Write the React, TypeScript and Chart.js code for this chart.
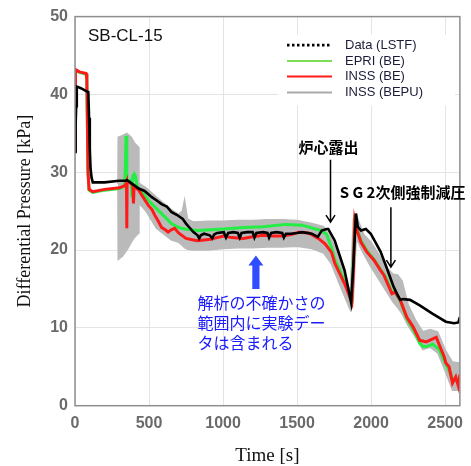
import React, { useEffect, useRef } from 'react';
import { Chart, registerables } from 'chart.js';

Chart.register(...registerables);

// ---- Data (time in s, differential pressure in kPa) ----
const lstfTime = [0, 4, 8, 12, 40, 70, 90, 95, 100, 105, 112, 120, 200, 298, 340, 350, 380, 430, 470, 519, 550, 585, 620, 651, 690, 728, 750, 773, 800, 828, 839, 850, 872, 910, 927, 940, 960, 1005, 1020, 1035, 1070, 1100, 1113, 1125, 1165, 1200, 1212, 1225, 1270, 1300, 1311, 1325, 1360, 1400, 1411, 1425, 1460, 1500, 1534, 1600, 1640, 1667, 1700, 1711, 1755, 1821, 1865, 1880, 1898, 1910, 1932, 1965, 1998, 2030, 2064, 2108, 2152, 2180, 2197, 2219, 2263, 2329, 2417, 2505, 2561, 2590, 2600];
const lstfValues = [32.6, 36.0, 38.5, 41.0, 40.8, 40.5, 40.3, 37.0, 33.0, 30.5, 29.3, 28.7, 28.7, 28.9, 28.9, 29.0, 28.6, 27.9, 27.6, 26.8, 26.4, 25.9, 25.6, 24.9, 24.5, 24.0, 23.4, 22.9, 22.3, 21.9, 21.5, 21.9, 22.1, 21.9, 21.5, 22.0, 22.2, 22.3, 21.6, 22.2, 22.3, 22.2, 21.6, 22.2, 22.3, 22.3, 21.6, 22.2, 22.3, 22.2, 21.6, 22.2, 22.3, 22.2, 21.6, 22.1, 22.1, 22.2, 22.3, 22.1, 21.7, 22.5, 22.7, 22.7, 21.2, 17.4, 13.3, 18.0, 24.7, 23.0, 22.5, 22.7, 22.1, 21.0, 19.8, 17.6, 15.3, 14.2, 13.6, 13.7, 13.6, 12.9, 11.8, 10.8, 10.6, 10.7, 11.4];

const epriTime = [0, 3, 75, 80, 88, 95, 120, 200, 300, 335, 340, 345, 350, 365, 380, 385, 390, 400, 408, 420, 453, 500, 563, 610, 651, 700, 740, 828, 916, 1005, 1137, 1270, 1424, 1534, 1623, 1667, 1700, 1733, 1755, 1821, 1870, 1890, 1910, 1932, 1970, 2020, 2064, 2100, 2141, 2163, 2197, 2241, 2285, 2329, 2351, 2373, 2417, 2461, 2494, 2527, 2550, 2572, 2600];
const epriValues = [32.8, 43.0, 42.6, 41.8, 29.8, 27.7, 27.4, 27.7, 27.9, 28.2, 30.5, 34.7, 29.0, 28.8, 29.0, 26.8, 29.5, 29.8, 29.5, 28.2, 27.4, 26.3, 25.1, 24.2, 23.4, 22.9, 22.7, 22.5, 22.6, 22.7, 22.9, 23.0, 23.3, 23.2, 22.7, 22.5, 22.0, 20.3, 18.8, 16.0, 13.5, 23.6, 22.4, 21.2, 20.0, 18.8, 17.5, 16.5, 14.6, 14.6, 13.5, 11.2, 9.8, 8.0, 7.6, 7.6, 7.9, 7.2, 5.8, 4.5, 3.5, 3.2, 3.0];

const inssTime = [0, 3, 30, 75, 80, 88, 95, 120, 200, 300, 340, 348, 350, 352, 370, 390, 395, 399, 430, 460, 497, 520, 541, 560, 585, 610, 629, 650, 673, 700, 750, 800, 828, 870, 916, 960, 1005, 1060, 1137, 1200, 1270, 1340, 1402, 1460, 1512, 1578, 1644, 1689, 1733, 1755, 1821, 1870, 1880, 1890, 1905, 1932, 1970, 2020, 2064, 2086, 2141, 2163, 2197, 2241, 2285, 2329, 2373, 2417, 2440, 2461, 2494, 2505, 2527, 2550, 2572, 2590, 2600];
const inssValues = [32.8, 43.2, 42.9, 42.7, 42.0, 30.0, 27.8, 27.5, 27.8, 28.0, 28.3, 28.7, 22.8, 28.7, 28.7, 28.3, 26.0, 28.2, 27.7, 26.8, 25.7, 25.2, 24.4, 23.8, 22.9, 22.6, 22.3, 22.6, 22.8, 22.2, 21.5, 21.3, 21.2, 21.3, 21.4, 21.6, 21.8, 21.6, 21.5, 21.7, 21.9, 21.8, 21.8, 22.0, 22.3, 22.2, 21.5, 20.8, 19.7, 18.3, 15.7, 13.3, 17.0, 23.8, 22.5, 21.0, 19.8, 18.7, 17.4, 16.8, 14.4, 14.6, 13.6, 11.4, 10.1, 8.4, 8.2, 8.6, 8.8, 7.8, 6.3, 5.5, 5.0, 2.9, 3.7, 2.5, 4.0];

const bepuTime = [290, 292, 320, 350, 380, 400, 430, 432, 480, 550, 650, 700, 725, 740, 760, 800, 900, 1000, 1100, 1200, 1300, 1400, 1500, 1600, 1680, 1730, 1800, 1860, 1880, 1900, 1950, 2000, 2050, 2100, 2150, 2180, 2210, 2250, 2300, 2350, 2400, 2450, 2500, 2550, 2600];
const bepuUpper = [28.5, 34.5, 34.7, 35.0, 34.5, 33.8, 33.2, 28.6, 28.0, 26.8, 25.2, 24.6, 25.0, 26.4, 24.0, 23.6, 23.7, 23.7, 23.8, 23.8, 23.9, 23.9, 23.8, 23.4, 23.0, 21.5, 18.6, 14.5, 24.0, 24.5, 22.0, 21.0, 19.5, 17.8, 16.9, 16.8, 16.0, 13.0, 11.0, 9.5, 9.8, 9.5, 7.2, 5.6, 5.5];
const bepuLower = [28.0, 18.8, 19.2, 20.0, 21.0, 21.6, 22.2, 26.0, 25.0, 22.8, 21.3, 21.0, 20.6, 20.3, 20.1, 20.0, 20.0, 20.2, 20.3, 20.3, 20.4, 20.4, 20.5, 20.2, 19.6, 18.3, 15.0, 12.3, 13.5, 21.5, 19.5, 17.8, 16.3, 14.8, 13.3, 12.6, 11.8, 10.3, 8.8, 7.2, 7.5, 6.8, 4.5, 2.0, 2.0];

const xTicks = [0, 500, 1000, 1500, 2000, 2500];
const yTicks = [0, 10, 20, 30, 40, 50];

const legendLabels = ['Data (LSTF)', 'EPRI (BE)', 'INSS (BE)', 'INSS (BEPU)'];
const caseLabel = 'SB-CL-15';
const noteCore = '炉心露出';
const noteSG = 'S G 2次側強制減圧';
const noteBlue = ['解析の不確かさの', '範囲内に実験デー', 'タは含まれる'];

const toXY = (ts: number[], vs: number[]) => ts.map((t, i) => ({ x: t, y: vs[i] }));

const COLORS = {
  data: '#000000',
  epri: '#22ee44',
  inss: '#ff1a1a',
  bepu: '#bababa',
};

const overlayPlugin = {
  id: 'overlay',
  afterDatasetsDraw(chart: any) {
    const { ctx, chartArea: ca, scales } = chart;
    const xs = scales.x;
    const ys = scales.y;
    const px = (t: number) => xs.getPixelForValue(t);
    const py = (v: number) => ys.getPixelForValue(v);
    ctx.save();

    // plot box
    ctx.strokeStyle = '#8e8e8e';
    ctx.lineWidth = 1.5;
    ctx.strokeRect(ca.left, ca.top, ca.right - ca.left, ca.bottom - ca.top);

    // case label
    ctx.fillStyle = '#111111';
    ctx.font = '17px "Liberation Sans", Arial, sans-serif';
    ctx.textBaseline = 'middle';
    ctx.textAlign = 'left';
    ctx.fillText(caseLabel, ca.left + 13, ca.top + 20);

    // legend box
    const lx = ca.left + 203;
    const ly = ca.top + 18;
    ctx.fillStyle = '#ffffff';
    ctx.fillRect(lx, ly, 177, 71);
    const rows = [10.5, 26.5, 42, 58];
    const styles = [
      { c: COLORS.data, w: 2.6, dash: [2.5, 2.5] },
      { c: '#7ddc55', w: 2, dash: [] },
      { c: COLORS.inss, w: 2, dash: [] },
      { c: '#aaaaaa', w: 2, dash: [] },
    ];
    ctx.font = '13px "Liberation Sans", Arial, sans-serif';
    legendLabels.forEach((lab, i) => {
      const yy = ly + rows[i];
      ctx.strokeStyle = styles[i].c;
      ctx.lineWidth = styles[i].w;
      ctx.setLineDash(styles[i].dash);
      ctx.beginPath();
      ctx.moveTo(lx + 9, yy);
      ctx.lineTo(lx + 54, yy);
      ctx.stroke();
      ctx.setLineDash([]);
      ctx.fillStyle = '#1c1c38';
      ctx.fillText(lab, lx + 67, yy);
    });

    // black annotations
    ctx.fillStyle = '#000000';
    ctx.font = 'bold 15px "Noto Sans CJK JP", sans-serif';
    ctx.textAlign = 'center';
    ctx.fillText(noteCore, px(1712), py(33.2));
    ctx.textAlign = 'left';
    ctx.fillText(noteSG, px(1788), py(27.4));

    const arrow = (t: number, v1: number, v2: number) => {
      const x = px(t);
      const y1 = py(v1);
      const y2 = py(v2);
      ctx.strokeStyle = '#000000';
      ctx.lineWidth = 1.5;
      ctx.beginPath();
      ctx.moveTo(x, y1);
      ctx.lineTo(x, y2);
      ctx.moveTo(x - 4.5, y2 - 7);
      ctx.lineTo(x, y2);
      ctx.lineTo(x + 4.5, y2 - 7);
      ctx.stroke();
    };
    arrow(1726, 31.6, 23.6);
    arrow(2134, 25.5, 17.8);

    // blue arrow
    const bx = px(1222);
    const tip = py(19.3);
    const base = py(15.0);
    ctx.fillStyle = '#2f4cff';
    ctx.beginPath();
    ctx.moveTo(bx, tip);
    ctx.lineTo(bx + 7.5, tip + 10);
    ctx.lineTo(bx + 3.6, tip + 10);
    ctx.lineTo(bx + 3.6, base);
    ctx.lineTo(bx - 3.6, base);
    ctx.lineTo(bx - 3.6, tip + 10);
    ctx.lineTo(bx - 7.5, tip + 10);
    ctx.closePath();
    ctx.fill();

    ctx.fillStyle = '#1a1aff';
    ctx.font = '16px "Noto Sans CJK JP", sans-serif';
    ctx.textAlign = 'left';
    noteBlue.forEach((line, i) => {
      ctx.fillText(line, px(828), py(13.2) + i * 20);
    });

    ctx.restore();
  },
};

const tickFont = { family: '"Liberation Sans", Arial, sans-serif', size: 16, weight: 'bold' as const };

export default function App() {
  const ref = useRef<HTMLCanvasElement>(null);
  useEffect(() => {
    document.body.style.margin = '0';
    const canvas = ref.current;
    if (!canvas) return;
    const chart = new Chart(canvas, {
      type: 'line',
      data: {
        datasets: [
          {
            label: legendLabels[0],
            data: toXY(lstfTime, lstfValues),
            borderColor: COLORS.data,
            borderWidth: 2.6,
            pointRadius: 0,
            order: 0,
          },
          {
            label: legendLabels[2],
            data: toXY(inssTime, inssValues),
            borderColor: COLORS.inss,
            borderWidth: 3,
            pointRadius: 0,
            order: 1,
          },
          {
            label: legendLabels[1],
            data: toXY(epriTime, epriValues),
            borderColor: COLORS.epri,
            borderWidth: 3,
            pointRadius: 0,
            order: 2,
          },
          {
            label: legendLabels[3],
            data: toXY(bepuTime, bepuUpper),
            borderColor: COLORS.bepu,
            borderWidth: 1.5,
            pointRadius: 0,
            fill: false,
            order: 3,
          },
          {
            label: 'bepu-lower',
            data: toXY(bepuTime, bepuLower),
            borderColor: COLORS.bepu,
            backgroundColor: COLORS.bepu,
            borderWidth: 1.5,
            pointRadius: 0,
            fill: 3,
            order: 4,
          },
        ],
      },
      options: {
        responsive: false,
        animation: false,
        events: [],
        layout: { padding: { top: 15, right: 3.3, left: 0, bottom: 0 } },
        plugins: {
          legend: { display: false },
          tooltip: { enabled: false },
        },
        scales: {
          x: {
            type: 'linear',
            min: 0,
            max: 2600,
            afterFit: (s: any) => { s.height = 60.3; },
            afterBuildTicks: (s: any) => { s.ticks = xTicks.map((v) => ({ value: v })); },
            ticks: {
              padding: 8,
              color: '#6a6a6a',
              font: tickFont,
              callback: (v: any) => String(v),
            },
            grid: { color: '#e4e4e4', lineWidth: 1, drawTicks: false },
            border: { display: false },
            title: {
              display: true,
              text: 'Time [s]',
              color: '#111111',
              font: { family: '"Liberation Serif", "Times New Roman", serif', size: 19, lineHeight: 1 },
              padding: { top: 0, bottom: 0 },
            },
          },
          y: {
            type: 'linear',
            min: 0,
            max: 50,
            afterFit: (s: any) => { s.width = 75; },
            afterBuildTicks: (s: any) => { s.ticks = yTicks.map((v) => ({ value: v })); },
            ticks: {
              padding: 7,
              color: '#6a6a6a',
              font: tickFont,
              callback: (v: any) => String(v),
            },
            grid: { color: '#e4e4e4', lineWidth: 1, drawTicks: false },
            border: { display: false },
            title: {
              display: true,
              text: 'Differential Pressure [kPa]',
              color: '#111111',
              font: { family: '"Liberation Serif", "Times New Roman", serif', size: 18, lineHeight: 1.2 },
              padding: { top: 14, bottom: 0 },
            },
          },
        },
      },
      plugins: [overlayPlugin],
    });
    return () => chart.destroy();
  }, []);
  return (
    <div style={{ width: 471, height: 466 }}>
      <canvas ref={ref} width={471} height={466} style={{ display: 'block' }} />
    </div>
  );
}
